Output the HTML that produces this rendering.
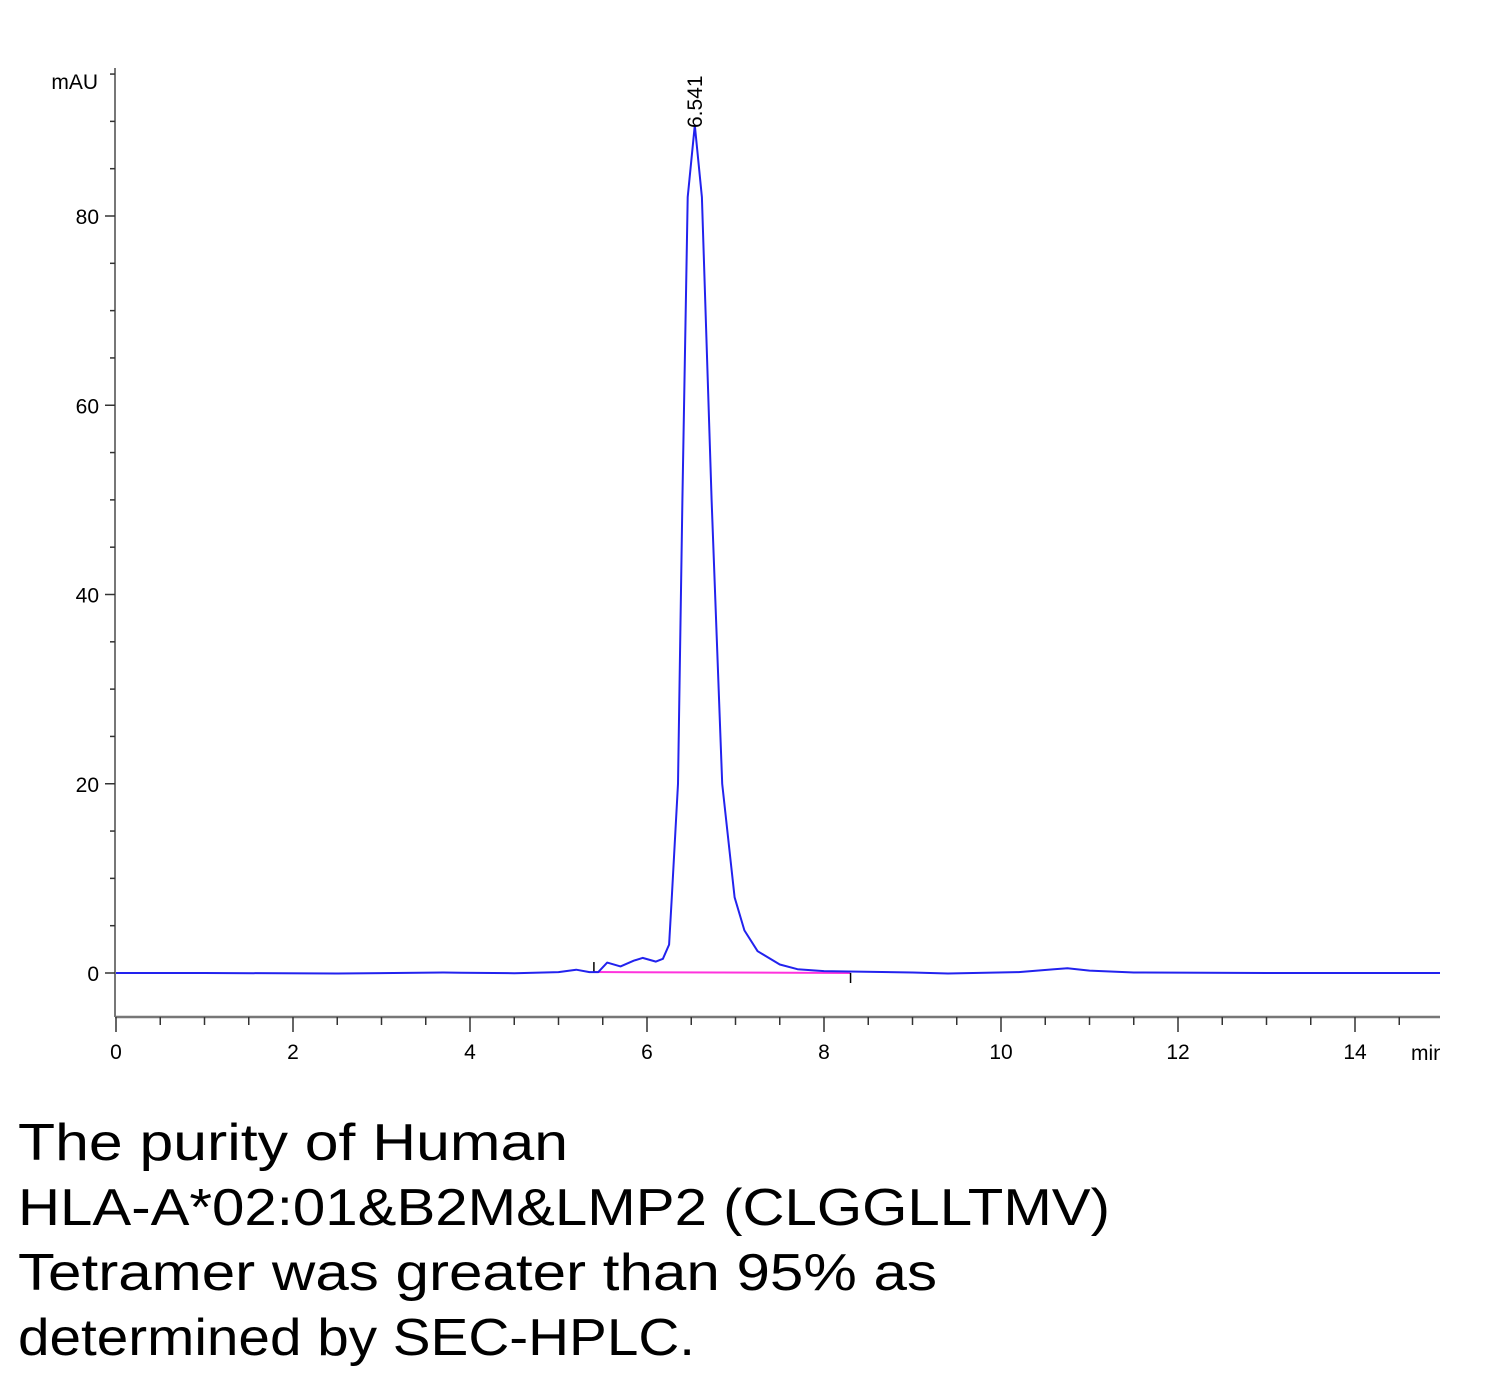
<!DOCTYPE html>
<html><head><meta charset="utf-8"><style>
html,body{margin:0;padding:0;background:#fff;}
svg{display:block;font-family:"Liberation Sans",Arial,sans-serif;}
</style></head><body>
<svg id="chart" width="1500" height="1384" viewBox="0 0 1500 1384" xmlns="http://www.w3.org/2000/svg">
<defs><clipPath id="clip"><rect x="0" y="0" width="1440" height="1100"/></clipPath></defs>
<g id="plot" clip-path="url(#clip)"></g>
<g font-family="'Liberation Sans',Arial,sans-serif" font-size="52" fill="#000">
<text x="18" y="1160" textLength="550" lengthAdjust="spacingAndGlyphs">The purity of Human</text>
<text x="18" y="1225" textLength="1092" lengthAdjust="spacingAndGlyphs">HLA-A*02:01&amp;B2M&amp;LMP2 (CLGGLLTMV)</text>
<text x="18" y="1290" textLength="919" lengthAdjust="spacingAndGlyphs">Tetramer was greater than 95% as</text>
<text x="18" y="1355" textLength="677" lengthAdjust="spacingAndGlyphs">determined by SEC-HPLC.</text>
</g>
</svg>
<script>
const times = [0,1,2.5,3.7,3.9,4.5,5.0,5.2,5.35,5.45,5.55,5.7,5.85,5.95,6.1,6.18,6.25,6.28,6.35,6.40,6.46,6.54,6.62,6.73,6.85,6.99,7.1,7.25,7.5,7.7,8.0,9.0,9.4,10.2,10.6,10.75,11.0,11.5,13,15];
const signal = [0,0,-0.05,0.05,0.03,-0.02,0.1,0.35,0.1,0.1,1.1,0.7,1.3,1.6,1.2,1.5,3,8,20,50,82,89.6,82,50,20,8,4.5,2.3,0.9,0.4,0.2,0.05,-0.05,0.1,0.4,0.5,0.25,0.05,0,0];
const xTicks = [0,2,4,6,8,10,12,14];
const yTicks = [0,20,40,60,80];
const baselineSeg = [5.4,8.3];
const peakLabel = "6.541";
const peakTime = 6.541;

const NS="http://www.w3.org/2000/svg";
const svg=document.getElementById('chart');
const plot=document.getElementById('plot');
const X=t=>116+t*88.5;
const Y=v=>973-v*9.4625;
function mk(tag,attrs,parent){const e=document.createElementNS(NS,tag);for(const k in attrs)e.setAttribute(k,attrs[k]);(parent||svg).appendChild(e);return e;}

// y axis
let ya=mk('line',{x1:115,y1:68,x2:115,y2:1017,stroke:'#777','stroke-width':2});


for(let v=-5;v<=95;v+=5){const y=Y(v);if(y<68||y>1017)continue;const maj=v%20===0;
 const t=mk('line',{x1:maj?105:110,y1:y,x2:115,y2:y,stroke:'#333','stroke-width':1.5});
 
 }
yTicks.forEach(v=>{const t=mk('text',{x:99,y:Y(v)+8,'text-anchor':'end','font-size':21,fill:'#000'});t.textContent=v;
 
 });
let yl=mk('text',{x:98,y:89,'text-anchor':'end','font-size':21,fill:'#000'});yl.textContent='mAU';



// x axis
let xa=mk('line',{x1:115,y1:1017,x2:1440,y2:1017,stroke:'#777','stroke-width':2.5});


for(let i=0;i<=30;i++){const t=i*0.5;const x=X(t);if(x>1440)continue;const maj=i%4===0;
 const l=mk('line',{x1:x,y1:1017,x2:x,y2:maj?1032:1025,stroke:'#333','stroke-width':1.5});
 
 }
xTicks.forEach(v=>{const t=mk('text',{x:X(v),y:1059,'text-anchor':'middle','font-size':21,fill:'#000'});t.textContent=v;
 
 });
let xl=mk('text',{x:1411,y:1060,'font-size':21,fill:'#000','clip-path':'url(#clip)'});xl.textContent='min';



// baseline
let bl=mk('line',{x1:X(baselineSeg[0]),y1:Y(0.1),x2:X(baselineSeg[1]),y2:Y(0),stroke:'#ff33dd','stroke-width':2},plot);


let m1=mk('line',{x1:X(baselineSeg[0]),y1:Y(0.1),x2:X(baselineSeg[0]),y2:Y(0.1)-10,stroke:'#000','stroke-width':1.5},plot);


let m2=mk('line',{x1:X(baselineSeg[1]),y1:Y(0),x2:X(baselineSeg[1]),y2:Y(0)+10,stroke:'#000','stroke-width':1.5},plot);



// trace
const pts=times.map((t,i)=>X(t).toFixed(1)+','+Y(signal[i]).toFixed(1)).join(' ');
let tr=mk('polyline',{points:pts,fill:'none',stroke:'#2222ee','stroke-width':2,'stroke-linejoin':'round'},plot);



// peak label
const px=X(peakTime)+7;
let pl=mk('text',{x:px,y:128,'font-size':21,fill:'#000',transform:`rotate(-90 ${px} 128)`});pl.textContent=peakLabel;


</script>
</body></html>
